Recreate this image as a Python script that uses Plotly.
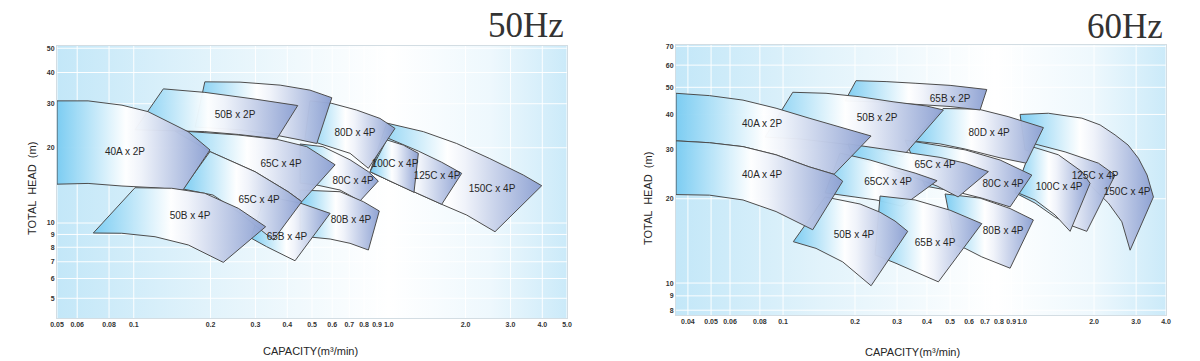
import math
import plotly.graph_objects as go

# ---------------- axes / ticks ----------------
X1_RANGE = [0.05, 5.0]
Y1_RANGE = [4.17, 51.05]
X1_TICKS = [0.05, 0.06, 0.08, 0.1, 0.2, 0.3, 0.4, 0.5, 0.6, 0.7, 0.8, 0.9, 1.0, 2.0, 3.0, 4.0, 5.0]
X1_TEXT = ["0.05", "0.06", "0.08", "0.1", "0.2", "0.3", "0.4", "0.5", "0.6", "0.7", "0.8", "0.9", "1.0", "2.0", "3.0", "4.0", "5.0"]
Y1_TICKS = [3, 4, 5, 6, 7, 8, 9, 10, 20, 30, 40, 50]

X2_RANGE = [0.03566, 4.0]
Y2_RANGE = [7.69, 70.8]
X2_TICKS = [0.04, 0.05, 0.06, 0.08, 0.1, 0.2, 0.3, 0.4, 0.5, 0.6, 0.7, 0.8, 0.9, 1.0, 2.0, 3.0, 4.0]
X2_TEXT = ["0.04", "0.05", "0.06", "0.08", "0.1", "0.2", "0.3", "0.4", "0.5", "0.6", "0.7", "0.8", "0.9", "1.0", "2.0", "3.0", "4.0"]
Y2_TICKS = [7, 8, 9, 10, 20, 30, 40, 50, 60, 70]

# ---------------- 50 Hz pump ranges (outline: top curve L->R, bottom curve R->L) ----------------
HZ50_150C4P_Q = [0.982, 1.366, 1.847, 2.49, 3.37, 3.98, 2.61, 2.022, 1.613, 1.248, 1.011, 0.845]
HZ50_150C4P_H = [25.1, 23.2, 20.8, 18.1, 15.56, 14.10, 9.23, 10.76, 11.88, 13.34, 14.72, 16.04]
HZ50_125C4P_Q = [0.967, 1.306, 1.613, 1.932, 1.613, 1.248, 1.011, 0.845]
HZ50_125C4P_H = [22.1, 19.4, 17.5, 15.8, 11.88, 13.34, 14.72, 16.04]
HZ50_100C4P_Q = [0.982, 1.140, 1.306, 1.256, 1.011, 0.845]
HZ50_100C4P_H = [21.5, 20.5, 19.0, 13.27, 14.72, 16.04]
HZ50_80D4P_Q = [0.491, 0.598, 0.748, 0.924, 1.058, 0.832, 0.705, 0.554, 0.469]
HZ50_80D4P_H = [30.8, 30.1, 28.3, 26.2, 23.9, 16.55, 19.0, 20.5, 21.7]
HZ50_TOP_Q = [0.190, 0.261, 0.375, 0.491, 0.598, 0.522, 0.449, 0.342, 0.261, 0.174]
HZ50_TOP_H = [36.7, 36.6, 35.6, 34.0, 31.7, 20.8, 21.5, 22.7, 23.6, 24.2]
HZ50_50B2P_Q = [0.1306, 0.190, 0.299, 0.4395, 0.364, 0.257, 0.190, 0.1387, 0.1011]
HZ50_50B2P_H = [34.4, 33.3, 31.3, 29.5, 21.7, 22.6, 23.2, 23.4, 23.6]
HZ50_80C4P_Q = [0.449, 0.552, 0.705, 0.832, 0.910, 0.771, 0.644, 0.522, 0.449]
HZ50_80C4P_H = [20.7, 20.2, 17.9, 16.04, 14.72, 12.25, 13.55, 14.19, 14.45]
HZ50_80B4P_Q = [0.449, 0.644, 0.795, 0.918, 0.832, 0.705, 0.589, 0.449]
HZ50_80B4P_H = [13.55, 13.34, 12.17, 11.17, 7.80, 8.295, 8.63, 8.87]
HZ50_65B4P_Q = [0.327, 0.449, 0.589, 0.429, 0.332, 0.288]
HZ50_65B4P_H = [12.82, 12.02, 10.93, 7.065, 8.04, 8.71]
HZ50_65C4P_UP_Q = [0.1451, 0.1662, 0.2563, 0.365, 0.477, 0.616, 0.456, 0.403, 0.299, 0.199]
HZ50_65C4P_UP_H = [23.3, 23.2, 22.5, 21.6, 20.2, 17.1, 12.17, 13.34, 16.04, 19.3]
HZ50_65C4P_LO_Q = [0.199, 0.299, 0.403, 0.456, 0.3526, 0.261, 0.2045, 0.156]
HZ50_65C4P_LO_H = [19.3, 16.04, 13.34, 12.17, 8.55, 10.96, 12.94, 13.68]
HZ50_40A2P_Q = [0.05, 0.0662, 0.0899, 0.1137, 0.1633, 0.199, 0.156, 0.1212, 0.0899, 0.0662, 0.05]
HZ50_40A2P_H = [30.8, 30.8, 29.6, 27.9, 23.2, 19.6, 13.55, 13.84, 14.06, 14.4, 14.3]
HZ50_50B4P_Q = [0.1011, 0.1409, 0.190, 0.257, 0.329, 0.2245, 0.1637, 0.1212, 0.0897, 0.0694]
HZ50_50B4P_H = [13.84, 13.77, 13.15, 11.45, 9.665, 6.96, 8.17, 8.815, 9.10, 9.12]

HZ50_LABELS = ["40A x 2P", "50B x 2P", "65C x 4P", "65C x 4P", "80D x 4P", "100C x 4P",
               "125C x 4P", "150C x 4P", "80C x 4P", "80B x 4P", "65B x 4P", "50B x 4P"]
HZ50_LABEL_Q = [0.0924, 0.2495, 0.378, 0.310, 0.737, 1.058, 1.546, 2.54, 0.724, 0.711, 0.399, 0.1662]
HZ50_LABEL_H = [19.2, 27.0, 17.2, 12.36, 22.9, 17.1, 15.28, 13.68, 14.72, 10.28, 8.79, 10.66]

# ---------------- 60 Hz pump ranges ----------------
HZ60_150C4P_Q = [0.981, 1.288, 1.778, 2.12, 2.449, 2.777, 3.067, 3.334, 3.543,
                 2.831, 2.614, 2.296, 1.925, 1.513, 1.189, 1.029]
HZ60_150C4P_H = [40.0, 40.4, 38.8, 36.7, 33.8, 31.1, 27.9, 24.3, 20.3,
                 13.1, 16.55, 19.3, 22.4, 25.7, 28.7, 29.9]
HZ60_125C4P_Q = [1.112, 1.513, 2.086, 2.449, 1.865, 1.619, 1.374, 1.133, 0.935]
HZ60_125C4P_H = [31.5, 29.4, 26.8, 24.3, 15.3, 16.0, 17.2, 19.3, 21.0]
HZ60_100C4P_Q = [1.098, 1.419, 1.778, 1.925, 1.588, 1.374, 1.133, 0.935]
HZ60_100C4P_H = [30.7, 28.7, 25.0, 22.7, 15.3, 17.5, 19.8, 21.2]
HZ60_80D4P_Q = [0.467, 0.6546, 0.874, 1.228, 1.039, 0.809, 0.5773, 0.4539, 0.3465]
HZ60_80D4P_H = [42.0, 41.8, 39.3, 35.9, 26.8, 28.0, 30.1, 31.4, 32.2]
HZ60_80C4P_Q = [0.324, 0.3567, 0.5773, 0.809, 1.098, 0.891, 0.6783, 0.541, 0.393]
HZ60_80C4P_H = [32.4, 32.0, 29.9, 27.5, 24.3, 18.7, 20.1, 21.1, 22.2]
HZ60_80B4P_Q = [0.4763, 0.6673, 0.891, 1.115, 0.891, 0.6783, 0.5773, 0.5245]
HZ60_80B4P_H = [20.8, 20.1, 18.45, 16.8, 11.3, 12.4, 13.3, 13.7]
HZ60_65B2P_Q = [0.2020, 0.2698, 0.3567, 0.4998, 0.7117, 0.6673, 0.4998, 0.3567, 0.2546, 0.1817]
HZ60_65B2P_H = [52.8, 52.4, 51.7, 50.8, 49.1, 41.5, 42.7, 43.6, 44.3, 44.7]
HZ60_50B2P_Q = [0.1098, 0.1513, 0.2080, 0.2885, 0.3966, 0.4686, 0.3168, 0.2450, 0.1957, 0.1178, 0.0841]
HZ60_50B2P_H = [48.0, 47.6, 46.3, 44.4, 42.9, 41.5, 28.3, 30.1, 31.1, 32.7, 33.2]
HZ60_65C4P_Q = [0.1871, 0.2546, 0.3399, 0.4539, 0.5773, 0.7228, 0.5398, 0.441, 0.3087, 0.1957]
HZ60_65C4P_H = [31.4, 30.2, 29.1, 28.1, 26.8, 25.0, 20.3, 22.2, 24.9, 28.2]
HZ60_65CX4P_Q = [0.1732, 0.2312, 0.2885, 0.3567, 0.441, 0.3147, 0.2450, 0.1782, 0.1499]
HZ60_65CX4P_H = [29.1, 27.5, 26.0, 24.7, 23.2, 18.8, 19.8, 20.6, 21.0]
HZ60_65B4P_Q = [0.2546, 0.3567, 0.4998, 0.6783, 0.4465, 0.3499, 0.2941, 0.2427]
HZ60_65B4P_H = [20.45, 19.8, 18.2, 16.3, 10.1, 11.1, 11.8, 12.6]
HZ60_50B4P_Q = [0.1499, 0.2100, 0.2546, 0.2941, 0.3324, 0.2335, 0.1777, 0.1374, 0.1104]
HZ60_50B4P_H = [20.3, 19.15, 17.9, 16.65, 15.3, 9.78, 11.9, 13.3, 14.05]
HZ60_40A2P_Q = [0.03566, 0.0492, 0.0680, 0.0935, 0.1285, 0.1782, 0.2335, 0.1634, 0.1285, 0.0935, 0.0680, 0.0492, 0.03566]
HZ60_40A2P_H = [47.6, 46.7, 45.0, 42.1, 38.8, 35.7, 33.5, 24.45, 26.0, 28.7, 30.7, 31.7, 32.2]
HZ60_40A4P_Q = [0.03566, 0.0492, 0.0680, 0.0935, 0.1285, 0.1634, 0.1777, 0.1331, 0.0935, 0.0680, 0.0492, 0.03566]
HZ60_40A4P_H = [32.2, 31.7, 30.7, 28.7, 26.0, 24.45, 23.1, 15.5, 18.0, 19.8, 20.6, 20.7]

HZ60_LABELS = ["40A x 2P", "40A x 4P", "50B x 2P", "65B x 2P", "80D x 4P", "65C x 4P", "65CX x 4P",
               "80C x 4P", "100C x 4P", "125C x 4P", "150C x 4P", "50B x 4P", "65B x 4P", "80B x 4P"]
HZ60_LABEL_Q = [0.0817, 0.0817, 0.2474, 0.4998, 0.728, 0.4325, 0.275, 0.833, 1.428, 2.021, 2.75, 0.198, 0.4325, 0.833]
HZ60_LABEL_H = [36.7, 24.3, 38.8, 45.4, 34.3, 26.2, 22.8, 22.4, 22.0, 24.1, 21.0, 14.8, 13.8, 15.3]

# drawing order, back to front
HZ50_ORDER = [(HZ50_150C4P_Q, HZ50_150C4P_H), (HZ50_125C4P_Q, HZ50_125C4P_H), (HZ50_100C4P_Q, HZ50_100C4P_H),
              (HZ50_80D4P_Q, HZ50_80D4P_H), (HZ50_TOP_Q, HZ50_TOP_H), (HZ50_50B2P_Q, HZ50_50B2P_H),
              (HZ50_80C4P_Q, HZ50_80C4P_H), (HZ50_80B4P_Q, HZ50_80B4P_H), (HZ50_65B4P_Q, HZ50_65B4P_H),
              (HZ50_65C4P_UP_Q, HZ50_65C4P_UP_H), (HZ50_65C4P_LO_Q, HZ50_65C4P_LO_H),
              (HZ50_40A2P_Q, HZ50_40A2P_H), (HZ50_50B4P_Q, HZ50_50B4P_H)]
HZ60_ORDER = [(HZ60_150C4P_Q, HZ60_150C4P_H), (HZ60_125C4P_Q, HZ60_125C4P_H), (HZ60_100C4P_Q, HZ60_100C4P_H),
              (HZ60_80D4P_Q, HZ60_80D4P_H), (HZ60_80C4P_Q, HZ60_80C4P_H), (HZ60_80B4P_Q, HZ60_80B4P_H),
              (HZ60_65B2P_Q, HZ60_65B2P_H), (HZ60_50B2P_Q, HZ60_50B2P_H), (HZ60_65C4P_Q, HZ60_65C4P_H),
              (HZ60_65CX4P_Q, HZ60_65CX4P_H), (HZ60_65B4P_Q, HZ60_65B4P_H), (HZ60_50B4P_Q, HZ60_50B4P_H),
              (HZ60_40A2P_Q, HZ60_40A2P_H), (HZ60_40A4P_Q, HZ60_40A4P_H)]

# ---------------- styles ----------------
BG_SCALE = [[0, "#c3e7f8"], [0.3, "#e2f3fb"], [0.65, "#ffffff"], [0.85, "#eef8fd"], [1, "#cbeaf9"]]
PUMP_SCALE = [[0, "rgba(122,204,242,0.97)"], [0.45, "rgba(255,255,255,0.97)"],
              [0.55, "rgba(240,243,250,0.97)"], [1, "rgba(140,160,210,0.97)"]]
EDGE = "#4d4d4d"
TXT = "#262626"

fig = go.Figure()


def panel(xa, ya, xr, yr, xt, yt, order, labels, lq, lh):
    # background gradient
    fig.add_trace(go.Scatter(x=[xr[0], xr[1], xr[1], xr[0], xr[0]], y=[yr[0], yr[0], yr[1], yr[1], yr[0]],
                             mode="lines", line=dict(width=0), fill="toself",
                             fillgradient=dict(type="horizontal", colorscale=BG_SCALE),
                             hoverinfo="skip", showlegend=False, xaxis=xa, yaxis=ya))
    # grid
    gx, gy = [], []
    for t in xt:
        gx += [t, t, None]
        gy += [yr[0], yr[1], None]
    for t in yt:
        if yr[0] <= t <= yr[1]:
            gx += [xr[0], xr[1], None]
            gy += [t, t, None]
    fig.add_trace(go.Scatter(x=gx, y=gy, mode="lines", line=dict(color="rgba(255,255,255,0.95)", width=1),
                             hoverinfo="skip", showlegend=False, xaxis=xa, yaxis=ya))
    for q, h in order:
        fig.add_trace(go.Scatter(x=q + [q[0]], y=h + [h[0]], mode="lines", fill="toself",
                                 fillgradient=dict(type="horizontal", colorscale=PUMP_SCALE),
                                 line=dict(color=EDGE, width=1), hoverinfo="skip", showlegend=False,
                                 xaxis=xa, yaxis=ya))
    fig.add_trace(go.Scatter(x=lq, y=lh, mode="text", text=labels,
                             textfont=dict(family="Liberation Sans", size=10, color=TXT),
                             hoverinfo="skip", showlegend=False, xaxis=xa, yaxis=ya))


panel("x", "y", X1_RANGE, Y1_RANGE, X1_TICKS, Y1_TICKS, HZ50_ORDER, HZ50_LABELS, HZ50_LABEL_Q, HZ50_LABEL_H)
panel("x2", "y2", X2_RANGE, Y2_RANGE, X2_TICKS, Y2_TICKS, HZ60_ORDER, HZ60_LABELS, HZ60_LABEL_Q, HZ60_LABEL_H)

tickfont = dict(family="Liberation Sans", size=7, color="#333333", weight="bold")
axis_common = dict(type="log", showgrid=False, zeroline=False, showline=True, mirror=True,
                   linecolor="#d3dde3", linewidth=1, ticks="", tickfont=tickfont, fixedrange=True,
                   automargin=False, tickangle=0)


def ann(text, x, y, size, family="Liberation Sans", angle=0, xanchor="center"):
    return dict(text=text, x=x / 1200, y=1 - y / 361, xref="paper", yref="paper", xanchor=xanchor,
                yanchor="middle", textangle=angle, showarrow=False,
                font=dict(family=family, size=size, color=TXT if size < 20 else "#333333"))


fig.update_layout(
    width=1200, height=361, autosize=False,
    margin=dict(l=0, r=0, t=0, b=0),
    paper_bgcolor="white", plot_bgcolor="white",
    xaxis=dict(axis_common, domain=[57 / 1200, 567 / 1200], anchor="y",
               range=[math.log10(X1_RANGE[0]), math.log10(X1_RANGE[1])],
               tickvals=X1_TICKS, ticktext=X1_TEXT),
    yaxis=dict(axis_common, domain=[1 - 318 / 361, 1 - 46 / 361], anchor="x",
               range=[math.log10(Y1_RANGE[0]), math.log10(Y1_RANGE[1])],
               tickvals=Y1_TICKS, ticktext=[str(v) for v in Y1_TICKS]),
    xaxis2=dict(axis_common, domain=[676 / 1200, 1166 / 1200], anchor="y2",
                range=[math.log10(X2_RANGE[0]), math.log10(X2_RANGE[1])],
                tickvals=X2_TICKS, ticktext=X2_TEXT),
    yaxis2=dict(axis_common, domain=[1 - 315 / 361, 1 - 45 / 361], anchor="x2",
                range=[math.log10(Y2_RANGE[0]), math.log10(Y2_RANGE[1])],
                tickvals=Y2_TICKS, ticktext=[str(v) for v in Y2_TICKS]),
    annotations=[
        ann("50Hz", 566, 25, 35, "Liberation Serif", xanchor="right"),
        ann("60Hz", 1165, 27, 35, "Liberation Serif", xanchor="right"),
        ann("TOTAL  HEAD  (m)", 32, 189, 11, angle=-90),
        ann("TOTAL  HEAD  (m)", 648, 199, 11, angle=-90),
        ann("CAPACITY(m³/min)", 310, 351, 11),
        ann("CAPACITY(m³/min)", 912, 352, 11),
    ],
)

fig.write_html("out.html", config={"displayModeBar": False},
               post_script="document.body.style.margin='0';document.body.style.overflow='hidden';")
